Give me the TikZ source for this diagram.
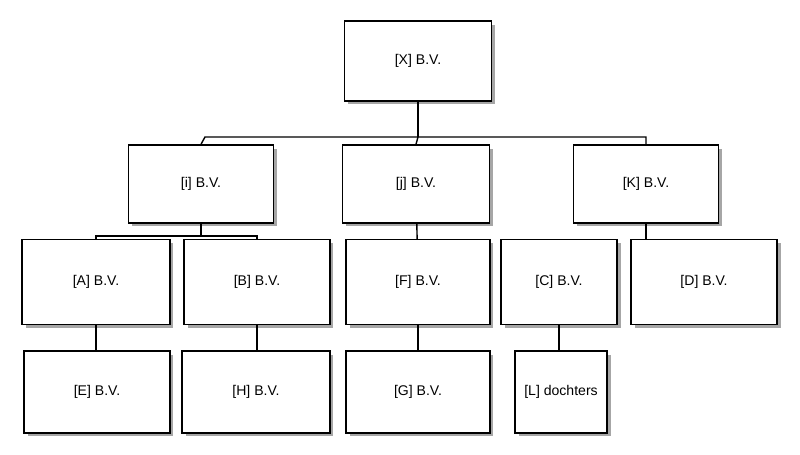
\documentclass[tikz,border=0pt]{standalone}
\usepackage{fontspec}
\setmainfont{Liberation Sans}
\usetikzlibrary{shadows}
\tikzstyle{bedrijf}=[draw, thick, fill=white, rectangle, inner sep=0pt,
drop shadow={shadow xshift=0.07cm, shadow yshift=-0.07cm, fill=black!35, opacity=1},
font=\fontsize{8}{10}\selectfont]
\tikzstyle{knik}=[coordinate]

\begin{document}
\begin{tikzpicture}[x=0.02cm, y=-0.02cm, thick]
		\useasboundingbox (0,0) rectangle (800,455);
		\node[bedrijf, minimum width=2.94cm, minimum height=1.6cm] (X) at (418,61) {[X] B.V.};
		\node[bedrijf, minimum width=2.9cm, minimum height=1.56cm] (i) at (201,184) {[i] B.V.};
		\node[bedrijf, minimum width=2.94cm, minimum height=1.56cm] (j) at (416,184) {[j] B.V.};
		\node[bedrijf, minimum width=2.9cm, minimum height=1.56cm] (K) at (646,184) {[K] B.V.};
		\node[bedrijf, minimum width=2.96cm, minimum height=1.7cm] (A) at (96,282) {[A] B.V.};
		\node[bedrijf, minimum width=2.92cm, minimum height=1.7cm] (B) at (257,282) {[B] B.V.};
		\node[bedrijf, minimum width=2.88cm, minimum height=1.7cm] (F) at (418,282) {[F] B.V.};
		\node[bedrijf, minimum width=2.32cm, minimum height=1.7cm] (C) at (559,282) {[C] B.V.};
		\node[bedrijf, minimum width=2.92cm, minimum height=1.7cm] (D) at (704,282) {[D] B.V.};
		\node[bedrijf, minimum width=2.92cm, minimum height=1.64cm] (E) at (97,392) {[E] B.V.};
		\node[bedrijf, minimum width=2.96cm, minimum height=1.64cm] (H) at (256,392) {[H] B.V.};
		\node[bedrijf, minimum width=2.88cm, minimum height=1.64cm] (G) at (418,392) {[G] B.V.};
		\node[bedrijf, minimum width=1.84cm, minimum height=1.64cm] (L) at (561,392) {[L] dochters};
		% verbindingen
		\node[knik] (bus) at (418,137) {};
		\draw (X) -- (bus);
		\draw (i.north) -- (205,137) -| (K.north);
		\draw (j.north) -- (bus);
		\node[knik] (busi) at (201,236) {};
		\draw (i) -- (busi);
		\draw (A.north) |- (busi) -| (B.north);
		\draw (j) -- (F);
		\draw (K.south) -- (D.north -| K.south);
		\draw (A) -- (E.north -| A.south);
		\draw (B) -- (H.north -| B.south);
		\draw (F) -- (G);
		\draw (C) -- (L.north -| C.south);
	\end{tikzpicture}
\end{document}
